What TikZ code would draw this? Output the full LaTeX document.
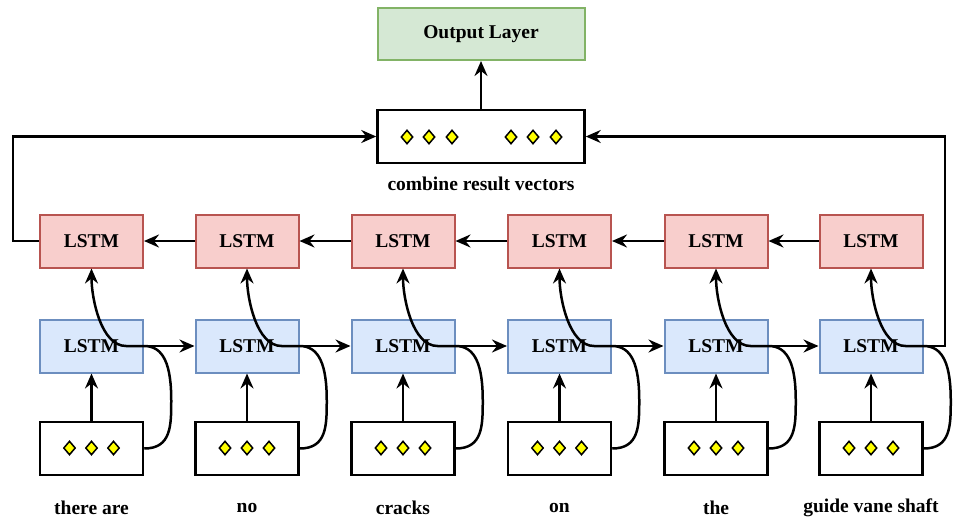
\documentclass[tikz,border=0pt]{standalone}
\usepackage{fontspec}
\setmainfont{Liberation Serif}
\usetikzlibrary{arrows.meta,shapes.geometric,calc}
\definecolor{redfill}{HTML}{F8CECC}\definecolor{redline}{HTML}{B85450}
\definecolor{bluefill}{HTML}{DAE8FC}\definecolor{blueline}{HTML}{6C8EBF}
\definecolor{greenfill}{HTML}{D5E8D4}\definecolor{greenline}{HTML}{82B366}
\definecolor{dotyellow}{HTML}{FFFF00}
\tikzset{
  box/.style={draw, rectangle, minimum width=103pt, minimum height=53pt, inner sep=0pt, font=\fontsize{19.5}{23}\selectfont\bfseries},
  redbox/.style={box, fill=redfill, draw=redline, line width=2pt},
  bluebox/.style={box, fill=bluefill, draw=blueline, line width=2pt},
  greenbox/.style={box, fill=greenfill, draw=greenline, line width=2pt, minimum width=207pt, minimum height=52pt},
  vecbox/.style={box, draw=black, fill=white, line width=2.5pt},
  dot/.style={diamond, draw=black, fill=dotyellow, line width=1.5pt, inner sep=0pt, minimum width=12pt, minimum height=14pt},
  lbl/.style={font=\fontsize{19.5}{23}\selectfont\bfseries, inner sep=0pt},
  arr/.style={line width=2.5pt, -{Stealth[length=15pt,width=13pt,inset=5pt]}},
  ln/.style={line width=2.5pt}
}
\begin{document}
\begin{tikzpicture}[x=1pt,y=-1pt]
\useasboundingbox (0,0) rectangle (955,519);
\node[greenbox] (out) at (481,34) {Output Layer};
\node[vecbox, minimum width=207pt] (comb) at (481,136.5) {};
\foreach \k/\x in {a/407,b/429,c/452,d/511,e/533,f/556}{\node[dot] (cd\k) at (\x,137) {};}
\node[lbl] (comblbl) at (481,184) {combine result vectors};
\draw[arr] (comb.north) -- (out.south);
\foreach \i/\x/\w in {1/91.5/there are,2/247/no,3/403/cracks,4/559.5/on,5/716/the,6/871/guide vane shaft}{
  \node[redbox] (rd\i) at (\x,241) {LSTM};
  \node[bluebox] (bl\i) at (\x,346) {LSTM};
  \node[vecbox] (in\i) at (\x,448.5) {};
  \node[dot] (da\i) at (\x-22,448) {};
  \node[dot] (db\i) at (\x,448) {};
  \node[dot] (dc\i) at (\x+22,448) {};
  \node[lbl] (w\i) at (\x,508) {\w};
  \draw[arr] (in\i.north) -- (bl\i.south);
  \draw[arr] (in\i.east) .. controls +(27,0) and +(0,25) .. ++(27,-48)
     .. controls +(0,-35) and +(20,0) .. (bl\i.east) -- ++(-18,0)
     .. controls +(-25,0) and +(0,30) .. (rd\i.south);
}
\foreach \i/\j in {1/2,2/3,3/4,4/5,5/6}{
  \draw[arr] (bl\i.east) -- (bl\j.west);
  \draw[arr] (rd\j.west) -- (rd\i.east);
}
\coordinate (lt1) at (13,241);
\coordinate (lt2) at (13,136.5);
\coordinate (rt1) at (945,346);
\coordinate (rt2) at (945,136.5);
\draw[arr] (rd1.west) -- (lt1) -- (lt2) -- (comb.west);
\draw[arr] (bl6.east) -- (rt1) -- (rt2) -- (comb.east);
\end{tikzpicture}
\end{document}
